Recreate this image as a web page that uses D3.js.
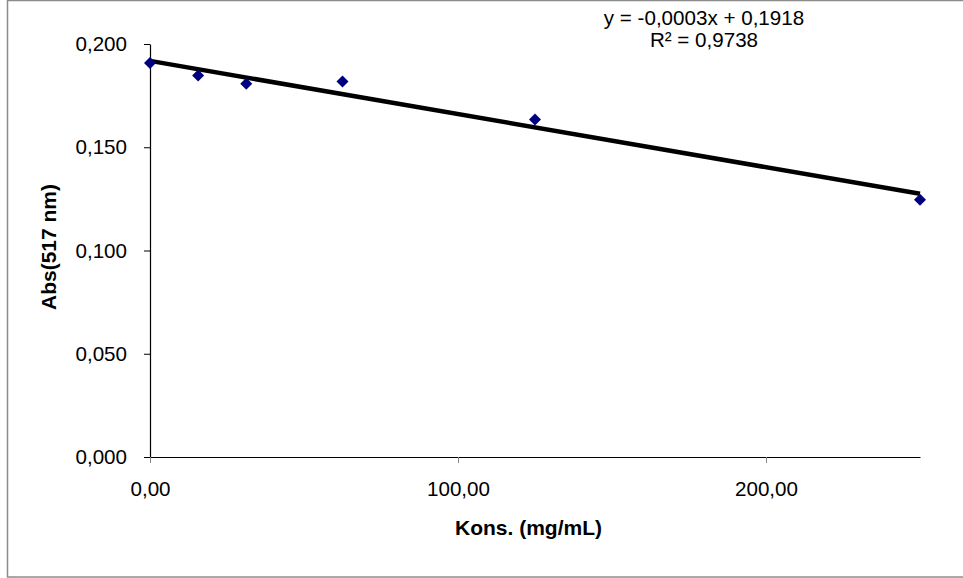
<!DOCTYPE html>
<html>
<head>
<meta charset="utf-8">
<script src="https://cdn.jsdelivr.net/npm/d3@7/dist/d3.min.js"></script>
<style>
  html, body { margin: 0; padding: 0; background: #fff; }
  svg { display: block; font-family: "Liberation Sans", Arial, sans-serif; }
</style>
</head>
<body>
<svg id="chart" width="963" height="578"></svg>
<script>
// Concentration (mg/mL) and absorbance at 517 nm
const konsentrasi = [0, 15.625, 31.25, 62.5, 125, 250];
const absorbansi = [0.1908, 0.1848, 0.1807, 0.1819, 0.1634, 0.1246];
const xTicks = [0, 100, 200];
const yTicks = [0, 0.05, 0.10, 0.15, 0.20];
const equationLines = ["y = -0,0003x + 0,1918", "R² = 0,9738"];
const xTitle = "Kons. (mg/mL)";
const yTitle = "Abs(517 nm)";

const svg = d3.select("#chart");
const W = 963, H = 578;
const plot = { left: 150, right: 920, top: 44, bottom: 457 };
const tickFont = 20.6, titleFont = 21;

const locale = d3.formatLocale({ decimal: ",", thousands: ".", grouping: [3], currency: ["", ""] });
const fmtX = locale.format(".2f");
const fmtY = locale.format(".3f");

const x = d3.scaleLinear().domain([0, 250]).range([plot.left, plot.right]);
const y = d3.scaleLinear().domain([0, 0.2]).range([plot.bottom, plot.top]);

// chart frame (right edge runs just past the canvas)
svg.append("rect")
  .attr("x", 7.5).attr("y", 0.5)
  .attr("width", W - 5).attr("height", H - 1.5)
  .attr("fill", "#fff").attr("stroke", "#8c8c8c").attr("stroke-width", 1.5);

// y axis
const yAxis = d3.axisLeft(y).tickValues(yTicks).tickFormat(fmtY)
  .tickSizeInner(6).tickSizeOuter(0).tickPadding(17);
const gy = svg.append("g").attr("transform", `translate(${plot.left},0)`).call(yAxis);
gy.select(".domain").attr("stroke", "#000").attr("stroke-width", 1.2);
gy.selectAll(".tick line").attr("stroke", "#000");
gy.selectAll(".tick text").attr("font-size", tickFont).attr("fill", "#000")
  .attr("font-family", "Liberation Sans, Arial, sans-serif");

// x axis
const xAxis = d3.axisBottom(x).tickValues(xTicks).tickFormat(fmtX)
  .tickSizeInner(6).tickSizeOuter(0).tickPadding(18);
const gx = svg.append("g").attr("transform", `translate(0,${plot.bottom})`).call(xAxis);
gx.select(".domain").attr("stroke", "#000").attr("stroke-width", 1.2);
gx.selectAll(".tick line").attr("stroke", "#888");
gx.selectAll(".tick text").attr("font-size", tickFont).attr("fill", "#000")
  .attr("font-family", "Liberation Sans, Arial, sans-serif");

// least-squares trend line
const n = konsentrasi.length;
const mx = d3.mean(konsentrasi), my = d3.mean(absorbansi);
let sxy = 0, sxx = 0;
for (let i = 0; i < n; i++) {
  sxy += (konsentrasi[i] - mx) * (absorbansi[i] - my);
  sxx += (konsentrasi[i] - mx) ** 2;
}
const slope = sxy / sxx;
const intercept = my - slope * mx;
const xDomain = x.domain();
svg.append("line")
  .attr("x1", x(xDomain[0])).attr("y1", y(intercept + slope * xDomain[0]))
  .attr("x2", x(xDomain[1])).attr("y2", y(intercept + slope * xDomain[1]))
  .attr("stroke", "#000").attr("stroke-width", 4.5);

// data markers (diamonds)
const diamond = "M0,-6L6,0L0,6L-6,0Z";
svg.append("g").selectAll("path")
  .data(konsentrasi.map((k, i) => [k, absorbansi[i]]))
  .join("path")
  .attr("d", diamond)
  .attr("transform", d => `translate(${x(d[0])},${y(d[1])})`)
  .attr("fill", "#00007e");

// regression equation
svg.append("g").selectAll("text")
  .data(equationLines)
  .join("text")
  .attr("x", 704).attr("y", (d, i) => 25 + i * 22)
  .attr("text-anchor", "middle")
  .attr("font-size", tickFont)
  .attr("fill", "#000")
  .text(d => d);

// axis titles
svg.append("text")
  .attr("x", 528.5).attr("y", 535)
  .attr("text-anchor", "middle")
  .attr("font-size", titleFont).attr("font-weight", "bold")
  .text(xTitle);

svg.append("text")
  .attr("transform", `translate(56,247) rotate(-90)`)
  .attr("text-anchor", "middle")
  .attr("font-size", titleFont).attr("font-weight", "bold")
  .text(yTitle);
</script>
</body>
</html>
